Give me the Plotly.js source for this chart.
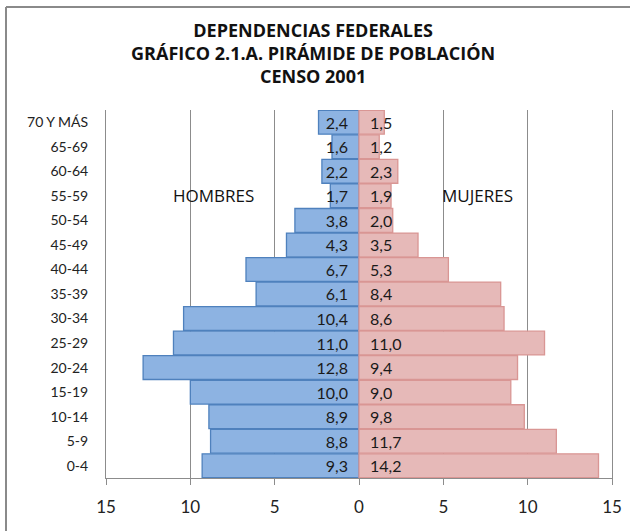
<!DOCTYPE html>
<html><head><meta charset="utf-8">
<script src="https://cdn.plot.ly/plotly-3.0.1.min.js"></script>
<style>
html,body{margin:0;padding:0;background:#fff;overflow:hidden}
#chart{width:630px;height:531px}
</style>
</head><body><div id="chart"></div>
<script>
const categories = ['70 Y MÁS','65-69','60-64','55-59','50-54','45-49','40-44','35-39','30-34','25-29','20-24','15-19','10-14','5-9','0-4'];
const hombres = [2.4,1.6,2.2,1.7,3.8,4.3,6.7,6.1,10.4,11.0,12.8,10.0,8.9,8.8,9.3];
const mujeres = [1.5,1.2,2.3,1.9,2.0,3.5,5.3,8.4,8.6,11.0,9.4,9.0,9.8,11.7,14.2];
const tickVals = [-15,-10,-5,0,5,10,15];
const tickText = ['15','10','5','0','5','10','15'];

const fmt = v => v.toFixed(1).replace('.', ',');
const labelFont = {family:'Lato, Open Sans, sans-serif', size:16, color:'#1a1a1a'};

const traces = [
  {type:'bar', orientation:'h', y:categories, x:hombres.map(v=>-v),
   text:hombres.map(v=>fmt(v)+'\u2002'), textposition:'inside', insidetextanchor:'start', textangle:0,
   constraintext:'none', textfont:labelFont, insidetextfont:labelFont,
   marker:{color:'#8db3e2', line:{color:'#4f81bd', width:1.3}}, hoverinfo:'skip', showlegend:false},
  {type:'bar', orientation:'h', y:categories, x:mujeres,
   text:mujeres.map(v=>'\u2002'+fmt(v)), textposition:'inside', insidetextanchor:'start', textangle:0,
   constraintext:'none', textfont:labelFont, insidetextfont:labelFont,
   marker:{color:'#e6b9b8', line:{color:'#d99694', width:1.3}}, hoverinfo:'skip', showlegend:false}
];

const layout = {
  width:630, height:531,
  margin:{l:6, r:0, t:7, b:0},
  paper_bgcolor:'#fff', plot_bgcolor:'rgba(0,0,0,0)',
  barmode:'overlay', bargap:0.03,
  title:{text:'<b>DEPENDENCIAS FEDERALES<br>GRÁFICO 2.1.A. PIRÁMIDE DE POBLACIÓN<br>CENSO 2001</b>',
    x:0.497, xref:'container', xanchor:'center', y:0.9309, yanchor:'middle',
    font:{family:'Open Sans, sans-serif', size:18, color:'#111'}},
  xaxis:{domain:[0.16026, 0.97115], range:[-15,15], tickvals:tickVals, ticktext:tickText,
    showgrid:true, gridcolor:'#8c8c8c', gridwidth:1,
    zeroline:true, zerolinecolor:'#8c8c8c', zerolinewidth:1,
    showline:true, linecolor:'#8c8c8c', linewidth:1, ticks:'outside', ticklen:6, tickcolor:'#8c8c8c',
    ticklabelstandoff:8,
    tickfont:{family:'Lato, Open Sans, sans-serif', size:17, color:'#222'}, fixedrange:true},
  yaxis:{domain:[0.10115, 0.80344], type:'category', categoryorder:'array', categoryarray:categories, autorange:'reversed',
    showgrid:false, zeroline:false, showline:true, mirror:true, linecolor:'#8c8c8c', linewidth:1,
    ticks:'', ticklabelstandoff:14,
    tickfont:{family:'Lato, Open Sans, sans-serif', size:14, color:'#222'}, fixedrange:true},
  annotations:[
    {text:'HOMBRES', x:-8.6, y:'55-59', xref:'x', yref:'y', showarrow:false,
     font:{family:'Open Sans, sans-serif', size:17, color:'#111'}},
    {text:'MUJERES', x:7.0, y:'55-59', xref:'x', yref:'y', showarrow:false,
     font:{family:'Open Sans, sans-serif', size:17, color:'#111'}}
  ],
  shapes:[
    {type:'line', xref:'paper', yref:'paper', x0:0, x1:0, y0:0, y1:1,
     line:{color:'#8a8a8a', width:2}, layer:'above'},
    {type:'line', xref:'paper', yref:'paper', x0:0, x1:1, y0:1, y1:1,
     line:{color:'#8a8a8a', width:2}, layer:'above'}
  ]
};

Plotly.newPlot('chart', traces, layout, {staticPlot:true, displayModeBar:false});
</script></body></html>
